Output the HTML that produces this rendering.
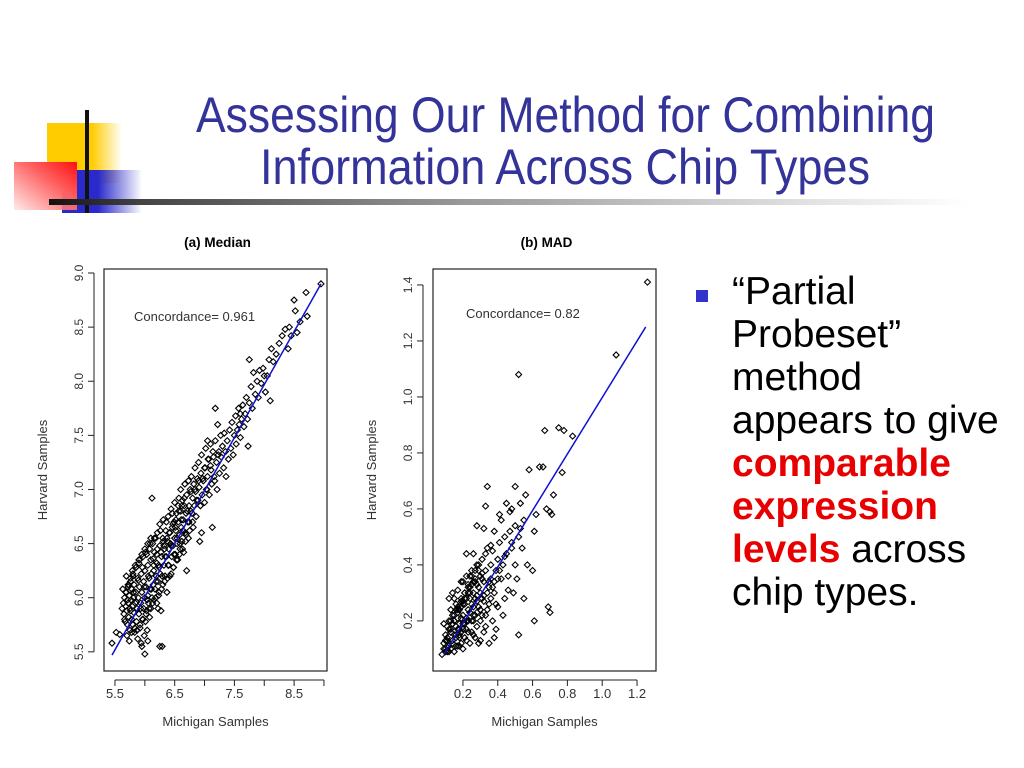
<!DOCTYPE html>
<html><head><meta charset="utf-8">
<style>
html,body{margin:0;padding:0;background:#fff;}
body{width:1024px;height:768px;position:relative;overflow:hidden;font-family:"Liberation Sans",sans-serif;}
.abs{position:absolute;}
.bt{font-family:"Liberation Sans","DejaVu Sans",sans-serif;font-size:39px;line-height:43px;color:#000;}
.red{color:#e80000;font-weight:bold;}
</style></head>
<body>
<div class="abs" style="left:0;top:100px;width:200px;height:120px;">
  <div class="abs" style="left:47px;top:23px;width:75px;height:60px;background:linear-gradient(to right,#ffcc00 0%,#ffcc00 60%,rgba(255,204,0,0) 100%);"></div>
  <div class="abs" style="left:62px;top:70px;width:80px;height:43px;background:linear-gradient(to right,#2a2acc 0%,#2a2acc 45%,rgba(42,42,204,0) 100%);"></div>
  <div class="abs" style="left:14px;top:62px;width:63px;height:48px;background:linear-gradient(to bottom left,#ff1010 0%,#ff6060 40%,rgba(255,220,220,0.6) 100%);"></div>
  <div class="abs" style="left:85px;top:10px;width:4px;height:103px;background:#111;"></div>
</div>
<div class="abs" style="left:49px;top:199px;width:920px;height:6px;background:linear-gradient(to right,#111 0%,#444 10%,#999 45%,#ddd 80%,rgba(255,255,255,0) 100%);"></div>
<svg class="abs" style="left:0;top:0" width="1024" height="220">
  <text x="196" y="132" textLength="739" lengthAdjust="spacingAndGlyphs" font-family="Liberation Sans,sans-serif" font-size="50" fill="#333399">Assessing Our Method for Combining</text>
  <text x="260" y="184" textLength="610" lengthAdjust="spacingAndGlyphs" font-family="Liberation Sans,sans-serif" font-size="50" fill="#333399">Information Across Chip Types</text>
</svg>

<div class="abs" style="left:696px;top:290px;width:12px;height:12px;background:#3333cc;"></div>
<div class="abs bt" style="left:732px;top:270px;width:292px;white-space:nowrap;">“Partial<br>Probeset”<br>method<br>appears to give<br><span class="red">comparable<br>expression<br>levels</span> across<br>chip types.</div>

<svg id="chart" class="abs" style="left:0;top:0" width="1024" height="768"></svg>

<script>
const medX=[5.45,5.52,5.58,5.62,5.64,5.65,5.66,5.67,5.68,5.69,5.7,5.71,5.72,5.72,5.73,5.74,5.75,5.75,5.76,5.77,5.78,5.78,5.79,5.8,5.8,5.81,5.82,5.82,5.83,5.84,5.85,5.85,5.86,5.87,5.88,5.88,5.89,5.9,5.9,5.91,5.92,5.93,5.94,5.94,5.95,5.96,5.97,5.98,5.98,5.99,6.0,6.0,6.01,6.02,6.03,6.03,6.04,6.05,6.05,6.06,6.07,6.08,6.08,6.09,6.1,6.1,6.11,6.12,6.12,6.13,6.14,6.15,6.15,6.16,6.17,6.18,6.19,6.2,6.2,6.21,6.22,6.23,6.24,6.25,6.25,6.26,6.27,6.28,6.29,6.3,6.3,6.31,6.32,6.33,6.34,6.35,6.36,6.37,6.38,6.39,6.4,6.4,6.41,6.42,6.43,6.44,6.45,6.46,6.47,6.48,6.49,6.5,6.5,6.51,6.52,6.53,6.54,6.55,6.56,6.57,6.58,6.59,6.6,6.6,6.61,6.62,6.63,6.64,6.65,6.66,6.67,6.68,6.69,6.7,6.7,6.72,6.73,6.74,6.75,6.76,6.77,6.78,6.8,6.8,6.82,6.83,6.84,6.85,6.86,6.88,6.89,6.9,6.91,6.92,6.93,6.94,6.95,6.96,6.98,7.0,7.0,7.02,7.03,7.05,7.06,7.08,7.1,7.1,7.12,7.13,7.15,7.16,7.18,7.2,7.21,7.22,7.24,7.25,7.27,7.28,7.3,7.32,7.33,7.35,7.36,7.38,7.4,7.42,7.44,7.46,7.48,7.5,7.52,7.53,7.55,7.57,7.58,7.6,7.62,7.64,7.66,7.68,7.7,7.72,7.73,7.75,7.78,7.8,7.82,7.85,7.88,7.9,7.92,7.95,7.98,8.0,8.02,8.05,8.08,8.1,8.12,8.15,8.2,8.25,8.3,8.35,8.4,8.42,8.45,8.5,8.52,8.55,8.6,8.7,8.72,8.95,7.18,7.05,6.95,7.75,7.6,6.22,6.05,5.95,6.0,6.25,5.7,5.74,5.78,5.83,5.87,5.92,5.97,6.02,6.07,6.13,6.18,6.23,6.28,6.33,6.38,6.44,6.48,6.53,6.58,6.63,6.68,6.73,
5.63,5.66,5.69,5.71,5.73,5.76,5.79,5.81,5.84,5.86,5.89,5.91,5.93,5.96,5.99,6.01,6.04,6.06,6.09,6.11,6.14,6.16,6.19,6.21,6.24,6.26,6.29,6.31,6.34,6.36,6.39,6.41,6.44,6.46,6.49,6.51,6.54,6.56,6.59,6.61,6.64,6.66,6.69,6.71,6.74,6.77,6.79,6.81,6.84,6.87,6.9,6.93,6.97,7.01,7.04,7.07,7.11,7.14,7.17,7.23,5.68,5.72,5.76,5.8,5.85,5.9,5.95,6.0,6.05,6.1,6.15,6.2,6.27,6.32,6.37,6.42,6.47,6.52,6.57,6.62];
const medY=[5.58,5.68,5.66,5.9,5.95,5.85,6.0,5.78,5.92,6.05,5.88,5.75,6.1,5.95,5.82,6.02,5.7,5.9,6.15,5.98,5.8,6.08,5.92,6.2,5.75,6.0,5.86,6.12,5.68,5.95,6.28,6.05,5.78,5.9,6.18,5.62,6.0,5.85,6.32,6.1,5.72,5.95,6.22,5.58,6.05,5.8,6.38,5.9,6.15,5.65,6.0,6.25,5.78,6.1,5.88,6.4,5.7,6.02,6.3,5.95,6.18,5.82,6.45,6.08,5.9,6.35,6.22,6.0,6.92,6.5,6.12,5.98,6.3,6.42,6.08,6.55,6.2,5.95,6.4,6.6,6.15,6.3,6.05,6.48,6.68,6.22,5.88,6.38,5.55,6.55,6.12,6.72,6.3,6.45,6.2,6.62,6.38,6.05,6.52,6.75,6.3,6.45,6.6,6.2,6.5,6.82,6.38,6.65,6.48,6.28,6.7,6.55,6.88,6.4,6.62,6.78,6.5,6.35,6.7,6.92,6.58,6.45,6.8,7.0,6.65,6.52,6.9,6.72,6.42,6.85,7.05,6.6,6.78,6.95,6.25,6.7,7.08,6.85,6.62,7.0,6.8,7.12,6.92,6.7,7.05,6.85,7.2,6.98,6.75,7.1,6.9,7.25,7.02,6.52,6.85,7.15,7.32,6.95,7.08,7.2,6.88,7.38,7.0,7.12,7.28,6.95,7.22,7.42,7.05,6.65,7.3,7.12,7.45,7.25,7.0,7.6,7.35,7.15,7.5,7.3,7.4,7.2,7.52,7.35,7.12,7.45,7.28,7.55,7.38,7.62,7.32,7.5,7.68,7.42,7.55,7.75,7.6,7.48,7.65,7.78,7.58,7.7,7.85,7.65,7.4,7.8,7.95,7.75,8.08,7.88,8.0,7.85,8.1,7.98,8.12,8.05,7.9,8.05,8.2,7.82,8.3,8.18,8.25,8.35,8.42,8.48,8.3,8.5,8.42,8.75,8.65,8.45,8.55,8.82,8.6,8.9,7.75,7.45,6.6,8.2,7.7,5.9,5.6,5.55,5.48,5.55,5.65,5.6,5.68,5.72,5.7,5.75,5.8,5.85,5.9,5.95,6.0,6.02,6.08,6.15,6.18,6.22,6.28,6.35,6.4,6.45,6.52,6.55,
6.08,5.8,6.2,5.98,6.12,5.88,6.25,6.05,6.3,5.96,6.16,6.35,5.9,6.28,6.1,6.42,5.98,6.2,6.5,6.08,6.36,6.55,6.15,6.45,6.28,6.62,6.2,6.52,6.38,6.7,6.3,6.6,6.48,6.78,6.4,6.65,6.55,6.85,6.5,6.72,6.62,6.92,6.58,6.8,6.7,6.98,6.78,6.65,7.0,6.9,7.08,6.85,7.1,7.2,7.0,7.28,7.18,7.35,7.08,7.32,6.05,6.12,6.18,6.22,6.28,6.35,6.4,6.45,6.5,6.55,6.25,6.32,6.42,6.48,6.55,6.6,6.68,6.72,6.8,6.85];
const madX=[0.08,0.09,0.1,0.1,0.11,0.11,0.12,0.12,0.13,0.13,0.13,0.14,0.14,0.15,0.15,0.15,0.16,0.16,0.16,0.17,0.17,0.17,0.18,0.18,0.18,0.19,0.19,0.19,0.2,0.2,0.2,0.21,0.21,0.21,0.22,0.22,0.23,0.23,0.23,0.24,0.24,0.25,0.25,0.25,0.26,0.26,0.27,0.27,0.28,0.28,0.28,0.29,0.29,0.3,0.3,0.3,0.31,0.31,0.32,0.32,0.33,0.33,0.34,0.34,0.35,0.35,0.36,0.36,0.37,0.37,0.38,0.38,0.39,0.4,0.4,0.41,0.42,0.42,0.43,0.44,0.44,0.45,0.45,0.46,0.47,0.48,0.48,0.49,0.5,0.5,0.5,0.51,0.52,0.52,0.52,0.53,0.54,0.55,0.55,0.56,0.57,0.58,0.6,0.61,0.61,0.62,0.64,0.66,0.67,0.68,0.69,0.7,0.7,0.71,0.72,0.75,0.77,0.78,0.83,1.08,1.26,0.34,0.33,0.28,0.32,0.36,0.41,0.47,0.53,0.22,0.26,0.46,0.39,0.43,0.3,0.38,0.12,0.09,0.14,0.2,0.24,0.1,0.12,0.13,0.14,0.15,0.16,0.17,0.17,0.18,0.19,0.19,0.2,0.21,0.22,0.22,0.23,0.24,0.24,0.25,0.26,0.26,0.27,0.27,0.28,0.29,0.29,0.3,0.31,0.31,0.32,0.33,0.34,0.35,0.36,0.37,0.39,0.4,
0.09,0.1,0.11,0.12,0.13,0.14,0.15,0.16,0.17,0.18,0.19,0.2,0.21,0.22,0.23,0.24,0.25,0.26,0.27,0.28,0.11,0.13,0.15,0.17,0.19,0.21,0.23,0.25,0.27,0.29,0.31,0.33,0.12,0.14,0.16,0.18,0.2,0.22,0.24,0.26,0.28,0.3,0.32,0.35,0.38,0.41,0.44,0.48];
const madY=[0.08,0.12,0.1,0.15,0.09,0.18,0.12,0.2,0.1,0.16,0.24,0.13,0.19,0.09,0.22,0.28,0.14,0.18,0.26,0.11,0.21,0.31,0.15,0.24,0.19,0.12,0.28,0.34,0.17,0.22,0.1,0.26,0.3,0.14,0.2,0.36,0.16,0.24,0.32,0.12,0.28,0.2,0.38,0.26,0.15,0.3,0.22,0.34,0.18,0.4,0.27,0.12,0.32,0.24,0.36,0.2,0.42,0.28,0.16,0.34,0.22,0.38,0.3,0.46,0.26,0.12,0.35,0.4,0.2,0.45,0.3,0.52,0.38,0.42,0.25,0.48,0.35,0.56,0.4,0.28,0.5,0.44,0.62,0.36,0.52,0.46,0.6,0.3,0.54,0.68,0.4,0.35,0.5,0.15,1.08,0.62,0.46,0.28,0.56,0.65,0.4,0.74,0.38,0.2,0.52,0.58,0.75,0.75,0.88,0.6,0.25,0.23,0.59,0.58,0.65,0.89,0.73,0.88,0.86,1.15,1.41,0.68,0.61,0.54,0.53,0.47,0.58,0.59,0.53,0.44,0.44,0.31,0.17,0.22,0.13,0.14,0.28,0.19,0.3,0.34,0.36,0.13,0.09,0.2,0.22,0.15,0.11,0.17,0.25,0.11,0.21,0.16,0.27,0.19,0.13,0.28,0.2,0.23,0.32,0.16,0.22,0.34,0.28,0.14,0.23,0.25,0.38,0.3,0.22,0.35,0.27,0.18,0.24,0.34,0.28,0.32,0.26,0.35,
0.1,0.09,0.14,0.11,0.17,0.13,0.2,0.15,0.23,0.17,0.25,0.19,0.28,0.21,0.3,0.23,0.33,0.25,0.35,0.29,0.13,0.16,0.2,0.24,0.27,0.3,0.33,0.36,0.38,0.4,0.37,0.44,0.17,0.12,0.24,0.14,0.26,0.17,0.3,0.2,0.33,0.24,0.29,0.32,0.34,0.38,0.43,0.48];
const medLineX=[5.45,8.95], medLineY=[5.47,8.9];
const madLineX=[0.09,1.25], madLineY=[0.08,1.25];
const medXTicks=[5.5,6,6.5,7,7.5,8,8.5,9], medXLabels=["5.5","6.5","7.5","8.5"];
const medYTicks=[5.5,6.0,6.5,7.0,7.5,8.0,8.5,9.0];
const madXTicks=[0.2,0.4,0.6,0.8,1.0,1.2], madYTicks=[0.2,0.4,0.6,0.8,1.0,1.2,1.4];

const svg=document.getElementById('chart');
const NS='http://www.w3.org/2000/svg';
function mk(tag,attrs,parent){const e=document.createElementNS(NS,tag);for(const k in attrs)e.setAttribute(k,attrs[k]);(parent||svg).appendChild(e);return e;}
function txt(s,attrs,parent){const e=mk('text',attrs,parent);e.textContent=s;return e;}

function panel(cfg){
  const g=mk('g',{});
  
  
  const sx=v=>cfg.L+(v-cfg.x0)/(cfg.x1-cfg.x0)*(cfg.R-cfg.L);
  const sy=v=>cfg.B-(v-cfg.y0)/(cfg.y1-cfg.y0)*(cfg.B-cfg.T);
  const t=txt(cfg.title,{x:(cfg.L+cfg.R)/2+2,y:247,'text-anchor':'middle','font-size':13.5,'font-weight':'bold','font-family':'Liberation Sans,sans-serif'},g);
  
  
  const box=mk('rect',{x:cfg.L,y:cfg.T,width:cfg.R-cfg.L,height:cfg.B-cfg.T,fill:'none',stroke:'#222','stroke-width':1.2},g);
  
  
  const xa=mk('g',{},g);
  
  
  const xt=cfg.xTicks;
  mk('line',{x1:sx(xt[0]),x2:sx(xt[xt.length-1]),y1:cfg.B+9,y2:cfg.B+9,stroke:'#222'},xa);
  xt.forEach(v=>{mk('line',{x1:sx(v),x2:sx(v),y1:cfg.B+9,y2:cfg.B+15,stroke:'#222'},xa);});
  cfg.xLabels.forEach(s=>{const l=txt(s,{x:sx(parseFloat(s)),y:cfg.B+27,'text-anchor':'middle','font-size':13,fill:'#333'},xa);
    
    });
  const ya=mk('g',{},g);
  
  
  const yt=cfg.yTicks;
  const ax=cfg.L-10;
  mk('line',{x1:ax,x2:ax,y1:sy(yt[0]),y2:sy(yt[yt.length-1]),stroke:'#222'},ya);
  yt.forEach(v=>{mk('line',{x1:ax-6,x2:ax,y1:sy(v),y2:sy(v),stroke:'#222'},ya);
    const l=txt(v.toFixed(1),{x:0,y:0,'text-anchor':'middle','font-size':12,fill:'#333',transform:`translate(${ax-11},${sy(v)}) rotate(-90)`},ya);
    
    });
  const xl=txt('Michigan Samples',{x:(cfg.L+cfg.R)/2,y:726,'text-anchor':'middle','font-size':13,fill:'#333'},g);
  
  
  const yl=txt('Harvard Samples',{x:0,y:0,'text-anchor':'middle','font-size':13,fill:'#333',transform:`translate(${cfg.L-57},${(cfg.T+cfg.B)/2}) rotate(-90)`},g);
  
  
  const ct=txt(cfg.conc,{x:cfg.cx,y:cfg.cy,'font-size':13,fill:'#333'},g);
  
  
  const pts=mk('g',{fill:'none',stroke:'#000','stroke-width':1.1},g);
  
  
  cfg.xs.forEach((v,i)=>{const px=sx(v),py=sy(cfg.ys[i]);
    const p=mk('path',{d:`M${px-3},${py}L${px},${py-3}L${px+3},${py}L${px},${py+3}Z`},pts);
    
    });
  const ln=mk('line',{x1:sx(cfg.lx[0]),y1:sy(cfg.ly[0]),x2:sx(cfg.lx[1]),y2:sy(cfg.ly[1]),stroke:'#1010d0','stroke-width':1.5},g);
  
  
}
panel({name:'median-panel',title:'(a) Median',L:104,R:327,T:269,B:671,x0:5.316,x1:9.051,y0:5.323,y1:9.037,
  xTicks:medXTicks,xLabels:medXLabels,yTicks:medYTicks,xs:medX,ys:medY,lx:medLineX,ly:medLineY,conc:'Concordance= 0.961',cx:134,cy:321});
panel({name:'mad-panel',title:'(b) MAD',L:433,R:656,T:269,B:671,x0:0.028,x1:1.309,y0:0.021,y1:1.457,
  xTicks:madXTicks,xLabels:["0.2","0.4","0.6","0.8","1.0","1.2"],yTicks:madYTicks,xs:madX,ys:madY,lx:madLineX,ly:madLineY,conc:'Concordance= 0.82',cx:466,cy:318});
</script>
</body></html>
